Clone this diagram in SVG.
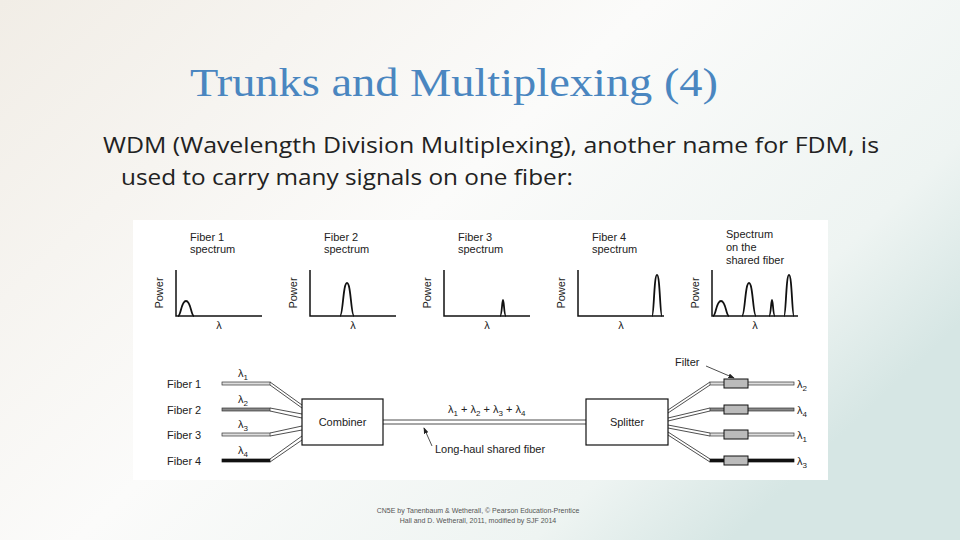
<svg xmlns="http://www.w3.org/2000/svg" width="960" height="540" viewBox="0 0 960 540">
<defs>
<linearGradient id="bg" x1="0" y1="0" x2="1" y2="0.6">
<stop offset="0" stop-color="#f1ede6"/><stop offset="0.5" stop-color="#fbfbfa"/><stop offset="0.85" stop-color="#eef4f2"/><stop offset="1" stop-color="#d6e6e4"/>
</linearGradient>
<marker id="ah" markerWidth="8" markerHeight="6" refX="7" refY="3" orient="auto"><path d="M0,0 L8,3 L0,6 z" fill="#222"/></marker>
<g id="axes"><path d="M0,-46 V0 H86" fill="none" stroke="#111" stroke-width="1.5"/><text x="-13" y="-23" transform="rotate(-90 -13 -23)" class="s" text-anchor="middle" font-size="12">Power</text><text x="43" y="13" class="s" text-anchor="middle">λ</text></g>
</defs>
<style>
.s{font-family:"Liberation Sans",Arial,sans-serif;font-size:11px;fill:#222}
.pk{fill:none;stroke:#111;stroke-width:1.8}
.ln{stroke:#222;stroke-width:0.8;fill:none}
.box{fill:#fff;stroke:#111;stroke-width:1.2}
</style>
<rect width="960" height="540" fill="url(#bg)"/>
<text x="190" y="96" font-family="'Liberation Serif','DejaVu Serif',serif" font-size="40" fill="#4a86c0" textLength="528" lengthAdjust="spacingAndGlyphs">Trunks and Multiplexing (4)</text>
<text font-family="'Open Sans','Liberation Sans',sans-serif" font-size="22" fill="#222"><tspan x="103" y="153" textLength="776" lengthAdjust="spacingAndGlyphs">WDM (Wavelength Division Multiplexing), another name for FDM, is</tspan><tspan x="121" y="185" textLength="452" lengthAdjust="spacingAndGlyphs">used to carry many signals on one fiber:</tspan></text>
<rect x="133" y="220" width="695" height="260" fill="#fff"/>
<g id="spectra">
<g id="s1" transform="translate(176,316)"><use href="#axes"/><text class="s" x="14" y="-75">Fiber 1</text><text class="s" x="14" y="-63">spectrum</text><path class="pk" d="M2,0 C5,0 5,-15 10,-15 C15,-15 15,0 18,0"/></g>
<g id="s2" transform="translate(310,316)"><use href="#axes"/><text class="s" x="14" y="-75">Fiber 2</text><text class="s" x="14" y="-63">spectrum</text><path class="pk" d="M30,0 C33,0 33,-33 37,-33 C41,-33 41,0 44,0"/></g>
<g id="s3" transform="translate(444,316)"><use href="#axes"/><text class="s" x="14" y="-75">Fiber 3</text><text class="s" x="14" y="-63">spectrum</text><path class="pk" d="M56,0 C58,0 58,-16 59,-16 C60,-16 60,0 62,0"/></g>
<g id="s4" transform="translate(578,316)"><use href="#axes"/><text class="s" x="14" y="-75">Fiber 4</text><text class="s" x="14" y="-63">spectrum</text><path class="pk" d="M74,0 C76,0 76,-41 79,-41 C82,-41 82,0 84,0"/></g>
<g id="s5" transform="translate(712,316)"><use href="#axes"/><text class="s" x="14" y="-78">Spectrum</text><text class="s" x="14" y="-65">on the</text><text class="s" x="14" y="-52">shared fiber</text><path class="pk" d="M1,0 C4,0 4,-15 9,-15 C14,-15 14,0 17,0 M30,0 C33,0 33,-33 37,-33 C41,-33 41,0 44,0 M57,0 C59,0 59,-16 60,-16 C61,-16 61,0 63,0 M72,0 C74,0 74,-41 77,-41 C80,-41 80,0 82,0"/></g>
</g>
<g id="connectors">
<rect x="222" y="382" width="48" height="3" fill="#ddd" stroke="#333" stroke-width="0.7"/>
<rect x="222" y="408" width="48" height="3" fill="#888" stroke="#333" stroke-width="0.7"/>
<rect x="222" y="433" width="48" height="3" fill="#ddd" stroke="#333" stroke-width="0.7"/>
<rect x="222" y="459" width="48" height="3" fill="#111" stroke="#111" stroke-width="0.7"/>
<path class="ln" d="M270,382 L302,405 M270,385 L302,408 M270,408 L302,414 M270,411 L302,418 M270,433 L302,426 M270,436 L302,430 M270,459 L302,436 M270,462 L302,440"/>
<path class="ln" d="M383,420 H586 M383,424 H586" stroke-width="1"/>
<path class="ln" d="M432,446 L424,428" marker-end="url(#ah)"/>
<path class="ln" d="M668,410 L710,382 M668,413 L710,385 M668,418 L710,408 M668,421 L710,411 M668,425 L710,433 M668,428 L710,436 M668,432 L710,459 M668,435 L710,462"/>
<rect x="710" y="382" width="84" height="3" fill="#ddd" stroke="#333" stroke-width="0.7"/>
<rect x="710" y="408" width="84" height="3" fill="#888" stroke="#333" stroke-width="0.7"/>
<rect x="710" y="433" width="84" height="3" fill="#ddd" stroke="#333" stroke-width="0.7"/>
<rect x="710" y="459" width="84" height="3" fill="#111" stroke="#111" stroke-width="0.7"/>
<g fill="#bbb" stroke="#111" stroke-width="1"><rect x="724" y="379" width="24" height="9"/><rect x="724" y="405" width="24" height="9"/><rect x="724" y="430" width="24" height="9"/><rect x="724" y="456" width="24" height="9"/></g>
<path class="ln" d="M706,366 L734,378" marker-end="url(#ah)"/>
</g>
<g id="labels" class="s">
<text class="s" x="167" y="388">Fiber 1</text><text class="s" x="167" y="414">Fiber 2</text><text class="s" x="167" y="439">Fiber 3</text><text class="s" x="167" y="465">Fiber 4</text>
<text class="s" x="238" y="377">λ<tspan font-size="8" dy="3">1</tspan></text>
<text class="s" x="238" y="403">λ<tspan font-size="8" dy="3">2</tspan></text>
<text class="s" x="238" y="428">λ<tspan font-size="8" dy="3">3</tspan></text>
<text class="s" x="238" y="454">λ<tspan font-size="8" dy="3">4</tspan></text>
<text class="s" x="448" y="413">λ<tspan font-size="8" dy="3">1</tspan><tspan dy="-3"> + λ</tspan><tspan font-size="8" dy="3">2</tspan><tspan dy="-3"> + λ</tspan><tspan font-size="8" dy="3">3</tspan><tspan dy="-3"> + λ</tspan><tspan font-size="8" dy="3">4</tspan></text>
<text class="s" x="435" y="453">Long-haul shared fiber</text>
<text class="s" x="675" y="366">Filter</text>
<text class="s" x="797" y="388">λ<tspan font-size="8" dy="3">2</tspan></text>
<text class="s" x="797" y="414">λ<tspan font-size="8" dy="3">4</tspan></text>
<text class="s" x="797" y="439">λ<tspan font-size="8" dy="3">1</tspan></text>
<text class="s" x="797" y="465">λ<tspan font-size="8" dy="3">3</tspan></text>
</g>
<g id="combiner"><rect class="box" x="302" y="399" width="81" height="46"/><text class="s" x="342.5" y="426" text-anchor="middle" font-size="12">Combiner</text></g>
<g id="splitter"><rect class="box" x="586" y="399" width="82" height="46"/><text class="s" x="627" y="426" text-anchor="middle" font-size="12">Splitter</text></g>
<text x="478" y="513" text-anchor="middle" font-family="'Liberation Sans',sans-serif" font-size="7" fill="#555">CN5E by Tanenbaum &amp; Wetherall, © Pearson Education-Prentice</text>
<text x="478" y="523" text-anchor="middle" font-family="'Liberation Sans',sans-serif" font-size="7" fill="#555">Hall and D. Wetherall, 2011, modified by SJF 2014</text>
</svg>
